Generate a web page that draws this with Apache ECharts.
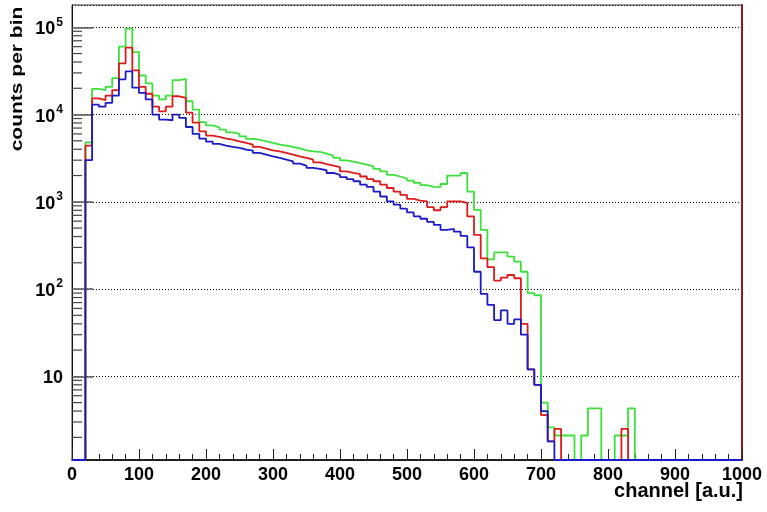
<!DOCTYPE html>
<html><head><meta charset="utf-8">
<script src="https://cdn.jsdelivr.net/npm/echarts@6/dist/echarts.min.js"></script>
<style>html,body{margin:0;padding:0;background:#fff}#c{width:767px;height:512px}</style>
</head><body><div id="c"></div>
<script>
// ---- data ----
const BIN_START = 20;   // first filled bin edge (channel)
const BIN_WIDTH = 10;   // channels per bin
const X_MIN = 0, X_MAX = 1000;
const Y_MIN = 1.1, Y_MAX = 1.8e5;

// counts per bin, first value = bin [20,30)
const greenCounts = [4800,19700,19000,20800,26100,60000,96600,52000,28000,22700,
  16500,14900,16500,24800,25700,14200,11400,8200,7500,7150,
  6720,6260,6000,5630,5260,5160,4940,4730,4520,4400,
  4250,4100,3890,3790,3740,3560,3380,3180,2990,2880,
  2780,2660,2550,2380,2230,2040,1950,1850,1750,1650,
  1550,1480,1475,1600,2000,2000,2140,1310,810,476,
  219,264,264,235,206,158,90,85,5,2.6,
  2.1,2.1,2.1,0,2.1,4.3,4.3,0,0,2.1,
  2.1,4.3];
const redCounts = [4400,15300,14600,16500,19000,38500,58400,32000,20800,17300,
  12300,10900,12300,16200,15500,10500,8100,6430,5740,5540,
  5300,5160,4940,4730,4520,4250,4070,3890,3790,3630,
  3470,3320,3180,3040,2830,2700,2600,2490,2230,2140,
  2080,1950,1820,1720,1570,1440,1310,1200,1080,1030,
  1010,870,800,870,1010,1010,970,680,418,225,
  178,125,135,145,133,40,12,8,3.6,1.8,
  2.5,0,0,0,0,0,0,0,0,0,
  2.5];
const blueCounts = [3000,13000,12300,13600,16500,25300,31200,20300,17700,14900,
  10000,8760,8600,10000,9160,7200,6000,5300,4900,4600,
  4400,4250,4140,3960,3860,3630,3470,3320,3180,3040,
  2900,2740,2600,2450,2380,2300,2140,2040,1920,1820,
  1720,1570,1480,1310,1150,1010,930,835,755,680,
  640,590,545,476,490,455,406,300,158,88,
  66,44,57,40,45,30,12,8,4,1.8];

const seriesNames = ['green', 'red', 'blue'];
const seriesColors = ['#3ae23a', '#e01a1a', '#1a1ac8'];

// ---- build step data ----
function toSteps(counts) {
  const nBins = (X_MAX - BIN_START) / BIN_WIDTH;
  const d = [[X_MIN, Y_MIN]];
  for (let i = 0; i < nBins; i++) {
    const v = counts[i] || 0;
    d.push([BIN_START + i * BIN_WIDTH, v > 0 ? v : Y_MIN]);
  }
  d.push([X_MAX, Y_MIN]);
  return d;
}

const minorY = [];
for (let e = 0; e <= 5; e++) for (let m = 2; m <= 9; m++) {
  const v = m * Math.pow(10, e);
  if (v > Y_MIN && v < Y_MAX) minorY.push([X_MIN, v]);
}

const FONT = '"Liberation Sans", Arial, sans-serif';
const chart = echarts.init(document.getElementById('c'), null, {renderer: 'canvas'});

const histSeries = [greenCounts, redCounts, blueCounts].map((c, i) => ({
  name: seriesNames[i], type: 'line', step: 'end', data: toSteps(c),
  symbol: 'none', lineStyle: {color: seriesColors[i], width: 1.8},
  itemStyle: {color: seriesColors[i]}, z: 3 + i, animation: false
}));

chart.setOption({
  animation: false,
  backgroundColor: '#fff',
  grid: {left: 72, right: 25, top: 5, bottom: 52, show: true, borderColor: '#333', borderWidth: 1},
  xAxis: {
    type: 'value', min: X_MIN, max: X_MAX, interval: 100,
    axisLine: {lineStyle: {color: '#000', width: 1.5}},
    axisTick: {inside: true, length: 11, lineStyle: {color: '#222'}},
    minorTick: {show: true, splitNumber: 5, length: 6, lineStyle: {color: '#222'}},
    splitLine: {show: false},
    axisLabel: {color: '#000', fontFamily: FONT, fontWeight: 'bold', fontSize: 18, margin: 6,
      formatter: v => String(v)}
  },
  yAxis: [{
    type: 'log', logBase: 10, min: Y_MIN, max: Y_MAX,
    axisLine: {show: true, lineStyle: {color: '#111', width: 1}},
    axisTick: {inside: true, length: 21, lineStyle: {color: '#555', width: 1.5}},
    splitLine: {show: true, lineStyle: {color: '#000', type: [1, 2], width: 1}},
    axisLabel: {
      showMinLabel: false, showMaxLabel: false, margin: 9,
      formatter: v => {
        const e = Math.log10(v);
        const r = Math.round(e);
        if (Math.abs(e - r) > 1e-6 || r < 1) return '';
        return r === 1 ? '{b|10}' : '{b|10}{s|' + r + '}';
      },
      rich: {
        b: {fontFamily: FONT, fontWeight: 'bold', fontSize: 18, color: '#000', lineHeight: 22, verticalAlign: 'bottom'},
        s: {fontFamily: FONT, fontWeight: 'bold', fontSize: 12, color: '#000', lineHeight: 22, verticalAlign: 'top', padding: [0, 0, 8, 1]}
      }
    }
  }, {
    type: 'log', logBase: 10, min: Y_MIN, max: Y_MAX, position: 'right',
    axisLine: {show: true, lineStyle: {color: '#8a1c1c', width: 2}},
    axisTick: {show: false}, axisLabel: {show: false}, splitLine: {show: false}
  }],
  graphic: [
    {type: 'text', x: 17, y: 79, rotation: Math.PI / 2, scaleY: 0.8,
      style: {text: 'counts per bin', fontFamily: FONT, fontWeight: 'bold', fontSize: 21,
        fill: '#000', align: 'center', verticalAlign: 'middle'}},
    {type: 'text', right: 24, top: 481,
      style: {text: 'channel [a.u.]', fontFamily: FONT, fontWeight: 'bold', fontSize: 20, fill: '#000'}}
  ],
  series: [
    ...histSeries,
    {type: 'custom', silent: true, z: 10, data: minorY, encode: {x: 0, y: 1},
      renderItem: (params, api) => {
        const p = api.coord([api.value(0), api.value(1)]);
        return {type: 'line', shape: {x1: p[0], y1: p[1], x2: p[0] + 10, y2: p[1]},
          style: {stroke: '#444', lineWidth: 1.2}};
      }}
  ]
});
</script></body></html>
